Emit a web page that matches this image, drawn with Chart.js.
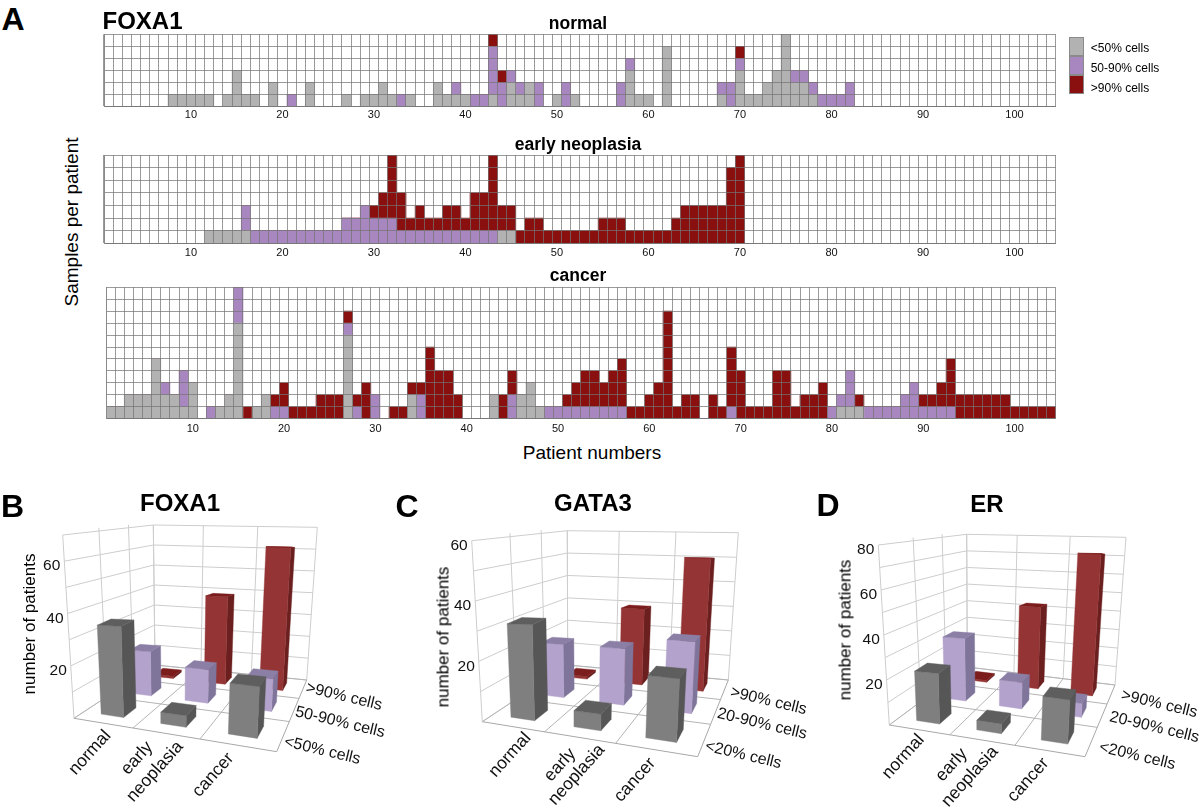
<!DOCTYPE html>
<html><head><meta charset="utf-8">
<script src="https://cdn.jsdelivr.net/npm/chart.js@4"></script>
<style>
html,body{margin:0;padding:0;background:#fff}
#page{position:relative;width:1200px;height:812px;overflow:hidden;font-family:"Liberation Sans",Arial,sans-serif;color:#000}
canvas{position:absolute}
.t{position:absolute;white-space:nowrap;transform:translate(-50%,-50%);line-height:1}
.s{position:absolute;width:15px;border:1px solid #8a8a8a;box-sizing:border-box}
</style></head><body><div id="page"></div>
<script>
// ---------- Panel A data (samples per patient, columns 1..104) ----------
const normalLow = [
0,0,0,0,0,0,0,1,1,1, 1,1,0,1,3,1,1,0,2,0, 0,0,2,0,0,0,1,0,1,1, 2,1,0,1,0,0,2,1,1,1,
0,0,1,0,2,1,2,0,0,1, 0,1,0,0,0,0,0,3,1,1, 0,5,0,0,0,0,0,1,0,3, 1,1,2,3,6,2,2,1,0,0,
0,0,0,0,0,0,0,0,0,0, 0,0,0,0,0,0,0,0,0,0, 0,0,0,0];
const normalMid = [
0,0,0,0,0,0,0,0,0,0, 0,0,0,0,0,0,0,0,0,0, 1,0,0,0,0,0,0,0,0,0, 0,0,1,0,0,0,0,0,1,0,
1,1,4,2,1,1,0,2,0,0, 2,0,0,0,0,0,2,1,0,0, 0,0,0,0,0,0,0,1,2,1, 0,0,0,0,0,1,1,1,1,1,
1,2,0,0,0,0,0,0,0,0, 0,0,0,0,0,0,0,0,0,0, 0,0,0,0];
const normalHigh = [
0,0,0,0,0,0,0,0,0,0, 0,0,0,0,0,0,0,0,0,0, 0,0,0,0,0,0,0,0,0,0, 0,0,0,0,0,0,0,0,0,0,
0,0,1,1,0,0,0,0,0,0, 0,0,0,0,0,0,0,0,0,0, 0,0,0,0,0,0,0,0,0,1, 0,0,0,0,0,0,0,0,0,0,
0,0,0,0,0,0,0,0,0,0, 0,0,0,0,0,0,0,0,0,0, 0,0,0,0];
const earlyLow = [
0,0,0,0,0,0,0,0,0,0, 0,1,1,1,1,1,0,0,0,0, 0,0,0,0,0,0,0,0,0,0, 0,0,0,0,0,0,0,0,0,0,
0,0,0,1,1,0,0,0,0,0, 0,0,0,0,0,0,0,0,0,0, 0,0,0,0,0,0,0,0,0,0, 0,0,0,0,0,0,0,0,0,0,
0,0,0,0,0,0,0,0,0,0, 0,0,0,0,0,0,0,0,0,0, 0,0,0,0];
const earlyMid = [
0,0,0,0,0,0,0,0,0,0, 0,0,0,0,0,2,1,1,1,1, 1,1,1,1,1,1,2,2,3,2, 2,2,1,1,1,1,1,1,1,1,
1,1,1,0,0,0,0,0,0,0, 0,0,0,0,0,0,0,0,0,0, 0,0,0,0,0,0,0,0,0,0, 0,0,0,0,0,0,0,0,0,0,
0,0,0,0,0,0,0,0,0,0, 0,0,0,0,0,0,0,0,0,0, 0,0,0,0];
const earlyHigh = [
0,0,0,0,0,0,0,0,0,0, 0,0,0,0,0,0,0,0,0,0, 0,0,0,0,0,0,0,0,0,1, 2,5,3,1,2,1,1,2,2,1,
3,3,6,2,2,1,2,2,1,1, 1,1,1,1,2,2,2,1,1,1, 1,1,2,3,3,3,3,3,6,7, 0,0,0,0,0,0,0,0,0,0,
0,0,0,0,0,0,0,0,0,0, 0,0,0,0,0,0,0,0,0,0, 0,0,0,0];
const cancerLow = [
1,1,2,2,2,5,2,2,1,3, 0,0,1,2,8,0,1,2,0,0, 0,0,0,0,0,0,7,0,0,0, 0,0,0,2,0,0,0,0,0,0,
0,0,2,0,0,2,3,1,0,0, 0,0,0,0,0,0,0,0,0,0, 0,0,0,0,0,0,0,0,0,0, 0,0,0,0,0,0,0,0,0,0,
1,1,1,0,0,0,0,0,0,0, 0,0,0,0,0,0,0,0,0,0, 0,0,0,0];
const cancerMid = [
0,0,0,0,0,0,1,0,3,0, 0,1,0,0,3,0,0,0,1,1, 0,0,0,0,0,0,1,1,0,2, 0,0,0,0,2,0,0,0,0,0,
0,0,0,0,2,0,0,0,1,1, 1,1,1,1,1,1,1,0,0,0, 0,0,0,0,0,0,0,0,1,0, 0,0,0,0,0,0,0,0,0,1,
1,3,0,1,1,1,1,2,3,1, 1,1,1,0,0,0,0,0,0,0, 0,0,0,0];
const cancerHigh = [
0,0,0,0,0,0,0,0,0,0, 0,0,0,0,0,1,0,0,1,2, 1,1,1,2,2,2,1,1,3,0, 0,1,1,1,1,6,4,4,2,0,
0,0,0,2,2,0,0,0,0,0, 1,2,3,3,2,3,4,1,1,2, 3,9,1,2,2,0,2,1,5,4, 1,1,1,4,4,1,2,2,3,0,
0,0,1,0,0,0,0,0,0,1, 1,2,4,2,2,2,2,2,2,1, 1,1,1,1];
const patientNumbers = Array.from({length:104},(_,i)=>String(i+1));
const legendLabels = ['<50% cells','50-90% cells','>90% cells'];

// ---------- Panels B, C, D data (number of patients) ----------
const stageLabels = ['normal','early\nneoplasia','cancer'];
const foxa1Levels = ['<50% cells','50-90% cells','>90% cells'];
const gata3Levels = ['<20% cells','20-90% cells','>90% cells'];
const erLevels    = ['<20% cells','20-90% cells','>90% cells'];
const foxa1Low=[34,4,17],  foxa1Mid=[18,13,12], foxa1High=[1,38,60];
const gata3Low=[31,5,18],  gata3Mid=[19,19,23], gata3High=[1,29,49];
const erLow=[22,4,17],     erMid=[30,12,6],     erHigh=[1,42,70];

// ---------- Styles ----------
const GRID_COL=['#b2b2b2','#a886bf','#8a1010'];
const FACES=[
 {front:'#7f7f7f',side:'#565656',top:'#5e5e5e'},
 {front:'#b3a2cc',side:'#7f7499',top:'#8b7fa6'},
 {front:'#953434',side:'#6b1f1f',top:'#7c1d1d'}];
const page=document.getElementById('page');
function text(str,x,y,size,bold,rot){
  const d=document.createElement('div');d.className='t';d.textContent=str;
  d.style.cssText=`left:${x}px;top:${y}px;font-size:${size}px;font-weight:${bold?'bold':'normal'};`+
    (rot?`transform:translate(-50%,-50%) rotate(${rot}deg);`:'');
  page.appendChild(d);
}
function canvas(l,t,w,h){
  const c=document.createElement('canvas');c.width=w;c.height=h;
  c.style.cssText=`left:${l}px;top:${t}px;width:${w}px;height:${h}px`;
  page.appendChild(c);return c.getContext('2d');
}

// ---------- Panel A: stacked bar grids ----------
function gridChart(box,rows,series,tickPad){
  const ctx=canvas(box.left,box.top,box.w,box.h);
  new Chart(ctx,{type:'bar',
    data:{labels:patientNumbers,datasets:series.map((d,i)=>({data:d,backgroundColor:GRID_COL[i],borderWidth:0,barPercentage:1,categoryPercentage:1}))},
    options:{responsive:false,animation:false,events:[],devicePixelRatio:1,
      layout:{padding:box.pad},
      plugins:{legend:{display:false},tooltip:{enabled:false},title:{display:false}},
      scales:{
        x:{stacked:true,afterFit(s){s.height=box.xh},
           grid:{color:'rgba(115,115,115,.72)',z:1,drawTicks:false,offset:true},border:{color:'#8a8a8a',z:1},
           ticks:{autoSkip:false,maxRotation:0,minRotation:0,padding:tickPad,color:'#111',font:{family:'Liberation Sans',size:11},
             callback(v,i){return (i+1)%10===0?patientNumbers[i]:''}}},
        y:{stacked:true,min:0,max:rows,afterFit(s){s.width=0},
           grid:{color:'rgba(115,115,115,.72)',z:1,drawTicks:false},border:{color:'#8a8a8a',z:1},
           ticks:{display:false,stepSize:1}}
      }}});
}
gridChart({left:90,top:28,w:980,h:95,xh:16.3,pad:{left:14,right:14.3,top:6.3,bottom:0}},6,[normalLow,normalMid,normalHigh],2);
gridChart({left:90,top:149,w:980,h:110,xh:15.7,pad:{left:14,right:14.3,top:6,bottom:0}},7,[earlyLow,earlyMid,earlyHigh],3);
gridChart({left:90,top:281,w:980,h:155,xh:17.3,pad:{left:16,right:14.3,top:6.3,bottom:0}},11,[cancerLow,cancerMid,cancerHigh],3.5);

// ---------- Panels B-D: perspective 3D bars, heights from the y scale ----------
function quadMap(p){ // unit square -> quad p0(0,0) p1(1,0) p2(1,1) p3(0,1)
  const [x0,y0]=p[0],[x1,y1]=p[1],[x2,y2]=p[2],[x3,y3]=p[3];
  const dx1=x1-x2,dx2=x3-x2,dx3=x0-x1+x2-x3,dy1=y1-y2,dy2=y3-y2,dy3=y0-y1+y2-y3;
  const den=dx1*dy2-dx2*dy1,g=(dx3*dy2-dx2*dy3)/den,h=(dx1*dy3-dx3*dy1)/den;
  const a=x1-x0+g*x1,b=x3-x0+h*x3,d=y1-y0+g*y1,e=y3-y0+h*y3;
  return (u,v)=>{const w=g*u+h*v+1;return [(a*u+b*v+x0)/w,(d*u+e*v+y0)/w]};
}
const bars3d={id:'bars3d',afterDraw(chart,_a,o){
  const {ctx,scales}=chart,{x,y,depth}=scales,cfg=o.cfg;
  const off=(p)=>[p[0]-cfg.left,p[1]-cfg.top];
  const F=quadMap(cfg.floor.map(off));
  const vec=cfg.roof.map((r,i)=>[r[0]-cfg.floor[i][0],r[1]-cfg.floor[i][1]]);
  const P=(u,v,h)=>{const a=F(u,v);
    const bl=j=>(1-u)*(1-v)*vec[0][j]+u*(1-v)*vec[1][j]+u*v*vec[2][j]+(1-u)*v*vec[3][j];
    return [a[0]+bl(0)*h,a[1]+bl(1)*h]};
  const frac=(val)=>(y.bottom-y.getPixelForValue(val))/(y.bottom-y.top);
  const line=(a,b,col)=>{ctx.beginPath();ctx.moveTo(a[0],a[1]);ctx.lineTo(b[0],b[1]);ctx.strokeStyle=col||'#cdcdcd';ctx.lineWidth=1;ctx.stroke()};
  const poly=(pts,col)=>{ctx.beginPath();pts.forEach((q,i)=>i?ctx.lineTo(q[0],q[1]):ctx.moveTo(q[0],q[1]));ctx.closePath();ctx.fillStyle=col;ctx.fill();ctx.strokeStyle=col;ctx.lineWidth=.4;ctx.stroke()};
  ctx.save();
  // walls
  y.ticks.forEach(t=>{const h=frac(t.value);
    line(P(0,0,h),P(0,1,h));line(P(0,1,h),P(1,1,h));});
  [0,1/3,2/3,1].forEach(s=>{line(P(0,s,0),P(0,s,1));line(P(s,1,0),P(s,1,1));});
  // floor
  [1/3,2/3].forEach(s=>{line(P(s,0,0),P(s,1,0),'#b4b4b4');line(P(0,s,0),P(1,s,0),'#b4b4b4');});
  line(P(0,0,0),P(1,0,0),'#a8a8a8');line(P(1,0,0),P(1,1,0),'#a8a8a8');line(P(1,1,0),P(0,1,0),'#b4b4b4');line(P(0,1,0),P(0,0,0),'#b4b4b4');
  const W=o.barHalfWidth,D=o.barHalfDepth;
  // bars, back row first
  const n=chart.data.datasets.length;
  for(let k=n-1;k>=0;k--){
    const data=chart.data.datasets[k].data,fc=FACES[k];
    const v=(depth.getPixelForValue(k)-depth.left)/depth.width;
    data.forEach((val,i)=>{
      const u=(x.getPixelForValue(i)-x.left)/x.width,h=frac(val);
      const fl=[u-W,v-D],fr=[u+W,v-D],br=[u+W,v+D],bl=[u-W,v+D];
      const low=c=>P(c[0],c[1],0),up=c=>P(c[0],c[1],h);
      poly([low(fr),low(br),up(br),up(fr)],fc.side);
      poly([low(fl),low(fr),up(fr),up(fl)],fc.front);
      poly([up(fl),up(fr),up(br),up(bl)],fc.top);
    });
  }
  // y tick labels and axis labels
  ctx.fillStyle='#111';ctx.font='15.5px "Liberation Sans"';ctx.textAlign='right';ctx.textBaseline='middle';
  y.ticks.forEach(t=>{if(t.label){const q=P(0,0,frac(t.value));ctx.fillText(t.label,q[0]-4,q[1]+5);}});
  // category labels
  ctx.textAlign='center';ctx.font='17.5px "Liberation Sans"';
  let li=0;
  x.getLabels().forEach(lab=>{lab.split('\n').forEach(s=>{
    const q=off(cfg.catPos[li++]);ctx.save();ctx.translate(q[0],q[1]);ctx.rotate(-48*Math.PI/180);ctx.fillText(s,0,0);ctx.restore();});});
  // depth labels
  ctx.font='16px "Liberation Sans"';
  depth.getLabels().forEach((lab,i)=>{const q=off(cfg.depthPos[i]);ctx.save();ctx.translate(q[0],q[1]);ctx.rotate(13.5*Math.PI/180);ctx.fillText(lab,0,0);ctx.restore();});
  ctx.restore();
}};
function chart3d(cfg,levels,series,ymax){
  const ctx=canvas(cfg.left,cfg.top,cfg.w,cfg.h);
  new Chart(ctx,{type:'bar',plugins:[bars3d],
    data:{labels:stageLabels,datasets:series.map((d,i)=>({label:levels[i],data:d,backgroundColor:'transparent',borderWidth:0}))},
    options:{responsive:false,animation:false,events:[],devicePixelRatio:1,
      plugins:{legend:{display:false},tooltip:{enabled:false},bars3d:{cfg,barHalfWidth:.065,barHalfDepth:.07}},
      scales:{
        x:{display:false,offset:true},
        depth:{axis:'x',type:'category',position:'bottom',display:false,offset:true,labels:levels},
        y:{display:false,min:0,max:ymax,ticks:{stepSize:10,callback(v){return v>0&&v%20===0?String(v):''}}}
      }}});
}
chart3d({left:0,top:480,w:395,h:332,
  floor:[[74,718.3],[276.7,751.7],[306.7,680],[155,665]],
  roof:[[62.7,535],[289,527.7],[317.3,527.3],[153.3,525]],
  catPos:[[90,752.7],[137,758.3],[155,771.7],[213.3,775]],
  depthPos:[[322.3,750.7],[340,722.3],[344,696.7]]},
  foxa1Levels,[foxa1Low,foxa1Mid,foxa1High],70);
chart3d({left:395,top:480,w:420,h:332,
  floor:[[482.3,721.7],[697.7,756.7],[728.3,680],[567.7,665]],
  roof:[[471.7,540.7],[710.5,533],[738.3,532.7],[567.3,530.7]],
  catPos:[[510,755],[560,765],[576.7,775],[635,780]],
  depthPos:[[743.3,755],[762,724],[768.5,701]]},
  gata3Levels,[gata3Low,gata3Mid,gata3High],60);
chart3d({left:810,top:480,w:390,h:332,
  floor:[[889.3,725],[1085,756.7],[1115,685],[967.3,667]],
  roof:[[878.3,545],[1098,537],[1126,537.3],[966.7,534.3]],
  catPos:[[903.3,756.7],[951.7,765],[970,776.7],[1028.3,780]],
  depthPos:[[1137.3,756],[1154.3,727.3],[1159.3,704]]},
  erLevels,[erLow,erMid,erHigh],80);

// ---------- Text ----------
text('A',13,19,32,true);text('B',12.5,506,32,true);text('C',407,506,32,true);text('D',828,505,32,true);
text('FOXA1',142.5,21,24,true);
text('normal',578,24,17.5,true);text('early neoplasia',578,145,17.5,true);text('cancer',578,276,17.5,true);
text('Samples per patient',71,222,19,false,-90);text('Patient numbers',592,452,19,false);
text('FOXA1',180,503,24,true);text('GATA3',593,503,24,true);text('ER',987,504,24,true);
text('number of patients',29,624,17,false,-90);text('number of patients',442.7,636.7,17,false,-90);text('number of patients',845,630,17,false,-90);
// legend
[[37,19.3],[56,19.3],[75,19]].forEach((b,i)=>{const s=document.createElement('div');s.className='s';
  s.style.top=b[0]+'px';s.style.left='1069px';s.style.height=b[1]+'px';s.style.background=GRID_COL[i];page.appendChild(s);});
[[1120,47.5],[1125,68],[1120,88]].forEach((p,i)=>text(legendLabels[i],p[0],p[1],12,false));
</script></body></html>
